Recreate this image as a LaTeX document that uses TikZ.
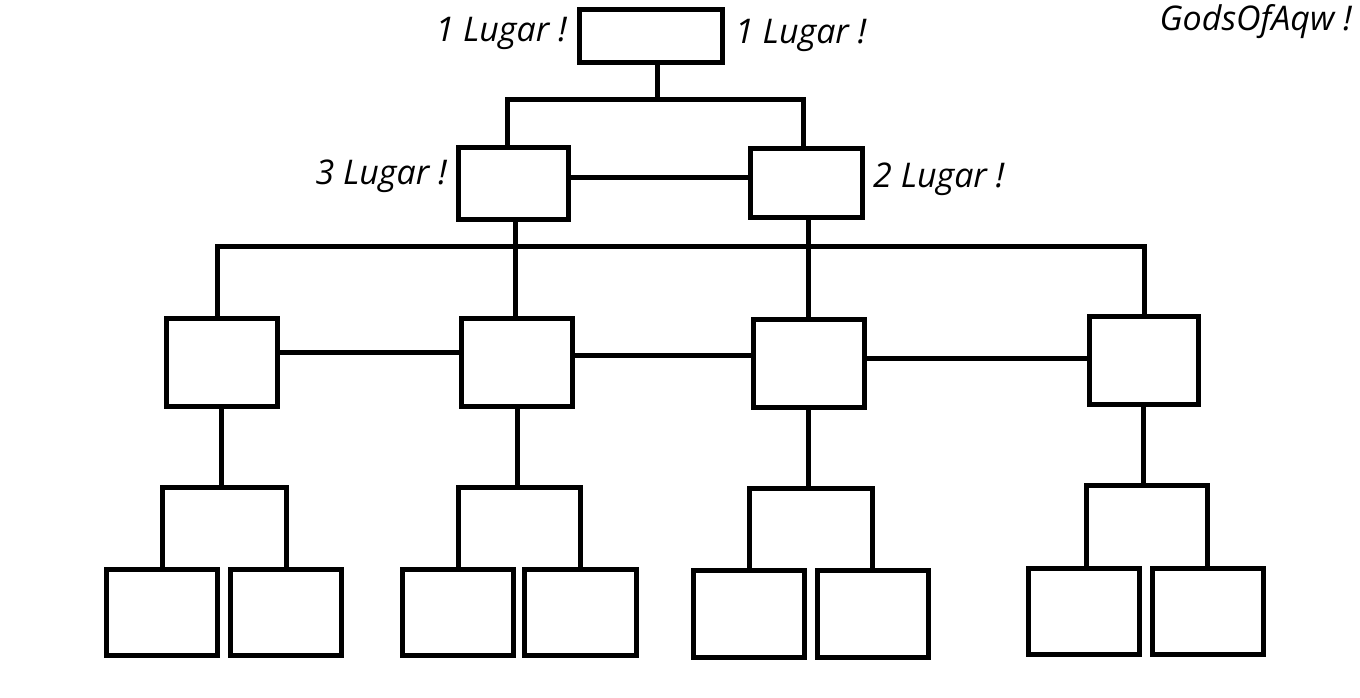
\documentclass[tikz,border=0pt]{standalone}
\usepackage{fontspec}
\setmainfont{Open Sans}
\begin{document}
\begin{tikzpicture}[x=1pt,y=-1pt,
  box/.style={draw,line width=5pt,rectangle,inner sep=0pt,outer sep=0pt,minimum width=111pt,minimum height=88pt},
  lbl/.style={inner sep=0pt,font=\fontsize{34}{36}\selectfont\itshape},
  wire/.style={line width=5pt}]
\useasboundingbox[fill=white] (0,0) rectangle (1360,697);
% nodes
\node[box,minimum width=143pt,minimum height=53pt] (T) at (651,36) {};
\node[box,minimum width=110pt,minimum height=72pt] (t3) at (513.5,183.5) {};
\node[box,minimum width=112pt,minimum height=69pt] (t2) at (806.5,183) {};
\node[box] (A) at (222,362.5) {};
\node[box] (B) at (517,362.5) {};
\node[box] (C) at (809,363.5) {};
\node[box,minimum width=109pt] (D) at (1144,360.5) {};
\node[box,minimum height=86pt] (A1) at (162,612.5) {};
\node[box,minimum height=86pt] (A2) at (286,612.5) {};
\node[box,minimum height=86pt] (B1) at (458,612.5) {};
\node[box,minimum height=86pt,minimum width=112pt] (B2) at (580.5,612.5) {};
\node[box,minimum height=87pt] (C1) at (749,614) {};
\node[box,minimum height=87pt] (C2) at (873,614) {};
\node[box,minimum height=86pt] (D1) at (1084,611.5) {};
\node[box,minimum height=86pt] (D2) at (1208,611.5) {};
% labels
\node[lbl,anchor=east] (l1a) at (567,33) {1 Lugar !};
\node[lbl,anchor=west] (l1b) at (735,35) {1 Lugar !};
\node[lbl,anchor=east] (l3) at (447,176) {3 Lugar !};
\node[lbl,anchor=west] (l2) at (873,179) {2 Lugar !};
\node[lbl,anchor=east] (gods) at (1352,22) {GodsOfAqw !};
% junction coordinates
\coordinate (j1) at (657,99);
\coordinate (j2) at (507,99);
\coordinate (j3) at (803,99);
\coordinate (h3) at (515,246);
\coordinate (h2) at (808,246);
\coordinate (hA) at (217,246);
\coordinate (hD) at (1144,246);
% connectors
\draw[wire] (657,0 |- T.south) -- (j1);
\draw[wire,line cap=rect] (507,0 |- t3.north) -- (j2) -- (j3) -- (803,0 |- t2.north);
\draw[wire] (t3.east |- 0,177) -- (t2.west |- 0,177);
\draw[wire] (515,0 |- t3.south) -- (h3);
\draw[wire] (808,0 |- t2.south) -- (h2);
\draw[wire,line cap=rect] (hA |- A.north) -- (hA) -- (hD) -- (hD |- D.north);
\draw[wire] (h3) -- (515,0 |- B.north);
\draw[wire] (h2) -- (808,0 |- C.north);
\draw[wire] (A.east |- 0,352) -- (B.west |- 0,352);
\draw[wire] (B.east |- 0,355) -- (C.west |- 0,355);
\draw[wire] (C.east |- 0,358) -- (D.west |- 0,358);
% lower brackets
\draw[wire] (221,0 |- A.south) -- (221,487);
\draw[wire,line cap=rect] (162,0 |- A1.north) -- (162,487) -- (286,487) -- (286,0 |- A2.north);
\draw[wire] (517,0 |- B.south) -- (517,487);
\draw[wire,line cap=rect] (458,0 |- B1.north) -- (458,487) -- (580,487) -- (580,0 |- B2.north);
\draw[wire] (808,0 |- C.south) -- (808,488);
\draw[wire,line cap=rect] (749,0 |- C1.north) -- (749,488) -- (872,488) -- (872,0 |- C2.north);
\draw[wire] (1143,0 |- D.south) -- (1143,485);
\draw[wire,line cap=rect] (1086,0 |- D1.north) -- (1086,485) -- (1207,485) -- (1207,0 |- D2.north);
\end{tikzpicture}
\end{document}
